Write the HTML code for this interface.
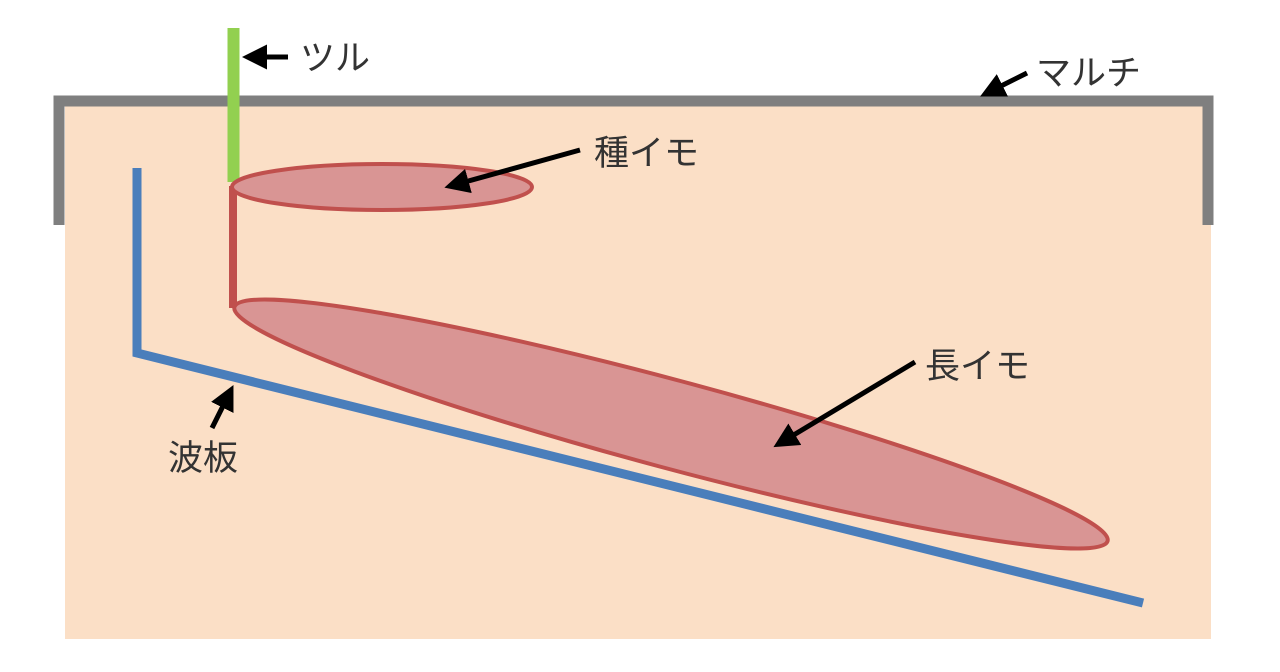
<!DOCTYPE html>
<html><head><meta charset="utf-8"><style>
html,body{margin:0;padding:0;background:#fff;width:1280px;height:672px;overflow:hidden}
text{font-family:"Liberation Sans","Noto Sans CJK JP",sans-serif;font-size:35px;fill:#333}
</style></head><body>
<svg width="1280" height="672" viewBox="0 0 1280 672" xmlns="http://www.w3.org/2000/svg">
<defs>
<marker id="ah" markerWidth="5" markerHeight="5" refX="3" refY="2.5" orient="auto" markerUnits="strokeWidth">
<path d="M0,0 L5,2.5 L0,5 Z" fill="#000"/>
</marker>
</defs>
<rect x="65" y="104" width="1146" height="535" fill="#fbdfc6"/>
<path d="M59,225 V101 H1208 V225" fill="none" stroke="#7f7f7f" stroke-width="11"/>
<line x1="233.5" y1="28" x2="233.5" y2="182" stroke="#92d050" stroke-width="12"/>
<line x1="233" y1="186" x2="233" y2="308" stroke="#c0504d" stroke-width="8"/>
<ellipse cx="382" cy="187" rx="150" ry="23" fill="#d99594" stroke="#c0504d" stroke-width="4"/>
<path d="M137,168 V353 L1143,603" fill="none" stroke="#4a7ebb" stroke-width="9"/>
<ellipse cx="671" cy="424" rx="452" ry="44" transform="rotate(15 671 424)" fill="#d99594" stroke="#c0504d" stroke-width="4"/>
<g stroke="#000" stroke-width="5" marker-end="url(#ah)">
<line x1="288" y1="57" x2="252" y2="57"/>
<line x1="1027" y1="73" x2="989" y2="92"/>
<line x1="580" y1="150" x2="454" y2="185"/>
<line x1="915" y1="362" x2="782" y2="442"/>
<line x1="212" y1="428" x2="229" y2="394"/>
</g>
<text x="300" y="70">ツル</text>
<text x="1036" y="85">マルチ</text>
<text x="594" y="165">種イモ</text>
<text x="925" y="378">長イモ</text>
<text x="168" y="470">波板</text>
</svg>
</body></html>
